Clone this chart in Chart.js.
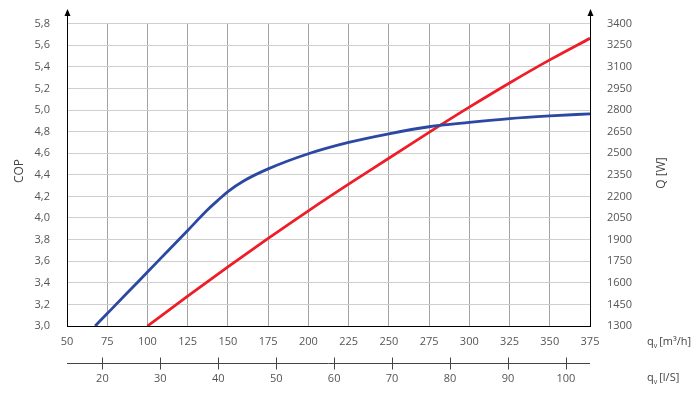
<!DOCTYPE html>
<html>
<head>
<meta charset="utf-8">
<script src="https://cdn.jsdelivr.net/npm/chart.js@4"></script>
<style>
  html, body { margin: 0; padding: 0; background: #fff; }
  #wrap { width: 700px; height: 393px; }
</style>
</head>
<body>
<div id="wrap"><canvas id="myChart" width="700" height="393"></canvas></div>
<script>
// COP curve (left axis)
const copFlow = [67.5, 75, 87.5, 100, 112.5, 125, 138, 145, 150, 160, 175, 200, 225, 250, 275, 300, 325, 350, 375];
const copValues = [3.0, 3.115, 3.307, 3.5, 3.692, 3.885, 4.085, 4.18, 4.245, 4.345, 4.455, 4.595, 4.7, 4.78, 4.845, 4.885, 4.92, 4.945, 4.965];

// heating capacity Q [W] (right axis)
const qFlow = [100, 125, 150, 175, 200, 225, 250, 275, 300, 325, 350, 375];
const qValues = [1300, 1507, 1710, 1908, 2100, 2285, 2465, 2645, 2820, 2988, 3148, 3298];

// tick labels
const flowTicks = [50, 75, 100, 125, 150, 175, 200, 225, 250, 275, 300, 325, 350, 375];
const lsTicks = [20, 30, 40, 50, 60, 70, 80, 90, 100];
const copTicks = [3.0, 3.2, 3.4, 3.6, 3.8, 4.0, 4.2, 4.4, 4.6, 4.8, 5.0, 5.2, 5.4, 5.6, 5.8];
const qTicks = [1300, 1450, 1600, 1750, 1900, 2050, 2200, 2350, 2500, 2650, 2800, 2950, 3100, 3250, 3400];

const labelFont = { family: 'Open Sans', size: 11 };
const labelColor = '#555';

function fixTicks(list) {
    return function (scale) {
        scale.ticks = list.map(v => ({ value: v }));
    };
}

// arrows on the two y axes, the l/s axis and the axis captions
const decor = {
    id: 'decor',
    afterDraw(chart) {
        const ctx = chart.ctx;
        const a = chart.chartArea;
        ctx.save();
        ctx.strokeStyle = '#000';
        ctx.fillStyle = '#000';
        ctx.lineWidth = 1;
        [a.left, a.right].forEach(x => {
            const px = Math.round(x) + 0.5;
            ctx.beginPath();
            ctx.moveTo(px, a.top);
            ctx.lineTo(px, 14);
            ctx.stroke();
            ctx.beginPath();
            ctx.moveTo(px, 9);
            ctx.lineTo(px - 3, 16);
            ctx.lineTo(px + 3, 16);
            ctx.closePath();
            ctx.fill();
        });

        // second flow axis in l/s
        const s = chart.scales.x2;
        const ly = Math.round(s.top + 7) + 0.5;
        ctx.strokeStyle = '#444';
        ctx.beginPath();
        ctx.moveTo(a.left, ly);
        ctx.lineTo(a.right, ly);
        s.ticks.forEach(t => {
            const px = Math.round(s.getPixelForValue(t.value)) + 0.5;
            ctx.moveTo(px, ly - 6);
            ctx.lineTo(px, ly + 6);
        });
        ctx.stroke();

        // axis titles
        ctx.fillStyle = '#444';
        ctx.font = '12px "Open Sans"';
        ctx.textAlign = 'center';
        ctx.textBaseline = 'middle';
        ctx.save();
        ctx.translate(20, 171);
        ctx.rotate(-Math.PI / 2);
        ctx.fillText('COP', 0, 0);
        ctx.restore();
        ctx.save();
        ctx.translate(662, 173);
        ctx.rotate(-Math.PI / 2);
        ctx.fillText('Q [W]', 0, 0);
        ctx.restore();

        // q_v unit captions
        ctx.textAlign = 'left';
        [[342, '[m³/h]'], [378, '[l/S]']].forEach(([y, unit]) => {
            let x = 647;
            ctx.font = '11px "Open Sans"';
            ctx.fillText('q', x, y);
            x += ctx.measureText('q').width;
            ctx.font = '7px "Open Sans"';
            ctx.fillText('v', x, y + 4);
            x += ctx.measureText('v').width + 2;
            ctx.font = '11px "Open Sans"';
            ctx.fillText(unit, x, y);
        });
        ctx.restore();
    }
};

const ctx = document.getElementById('myChart').getContext('2d');
const myChart = new Chart(ctx, {
    type: 'line',
    data: {
        datasets: [{
            label: 'COP',
            data: copFlow.map((x, i) => ({ x: x, y: copValues[i] })),
            yAxisID: 'y',
            borderColor: '#2b48a3',
            borderWidth: 2.8,
            pointRadius: 0,
            cubicInterpolationMode: 'monotone'
        }, {
            label: 'Q [W]',
            data: qFlow.map((x, i) => ({ x: x, y: qValues[i] })),
            yAxisID: 'y1',
            borderColor: '#ee1d27',
            borderWidth: 2.8,
            pointRadius: 0,
            cubicInterpolationMode: 'monotone'
        }]
    },
    options: {
        responsive: false,
        animation: false,
        layout: { padding: { top: 20, left: 0, right: 0, bottom: 0 } },
        plugins: { legend: { display: false }, tooltip: { enabled: false } },
        scales: {
            x: {
                type: 'linear',
                position: 'bottom',
                weight: 0,
                min: 50,
                max: 375,
                afterBuildTicks: fixTicks(flowTicks),
                afterFit: s => { s.height = 30; },
                grid: { color: '#a4a4a4', drawTicks: false },
                border: { color: '#000', width: 1 },
                ticks: { padding: 9, font: labelFont, color: labelColor, maxRotation: 0 }
            },
            x2: {
                type: 'linear',
                position: 'bottom',
                weight: 1,
                min: 50 / 3.6,
                max: 375 / 3.6,
                afterBuildTicks: fixTicks(lsTicks),
                afterFit: s => { s.height = 37; },
                grid: { display: false, drawTicks: false },
                border: { display: false },
                ticks: { padding: 16, font: labelFont, color: labelColor, maxRotation: 0 }
            },
            y: {
                position: 'left',
                min: 3.0,
                max: 5.8,
                afterBuildTicks: fixTicks(copTicks),
                afterFit: s => { s.width = 67; },
                grid: { color: '#cfcfcf', drawTicks: false },
                border: { color: '#000', width: 1 },
                ticks: {
                    padding: 17, font: labelFont, color: labelColor,
                    callback: v => v.toFixed(1).replace('.', ',')
                }
            },
            y1: {
                position: 'right',
                min: 1300,
                max: 3400,
                afterBuildTicks: fixTicks(qTicks),
                afterFit: s => { s.width = 110; },
                grid: { drawOnChartArea: false, drawTicks: false },
                border: { color: '#000', width: 1 },
                ticks: { padding: 17, font: labelFont, color: labelColor, callback: v => String(v) }
            }
        }
    },
    plugins: [decor]
});
</script>
</body>
</html>
